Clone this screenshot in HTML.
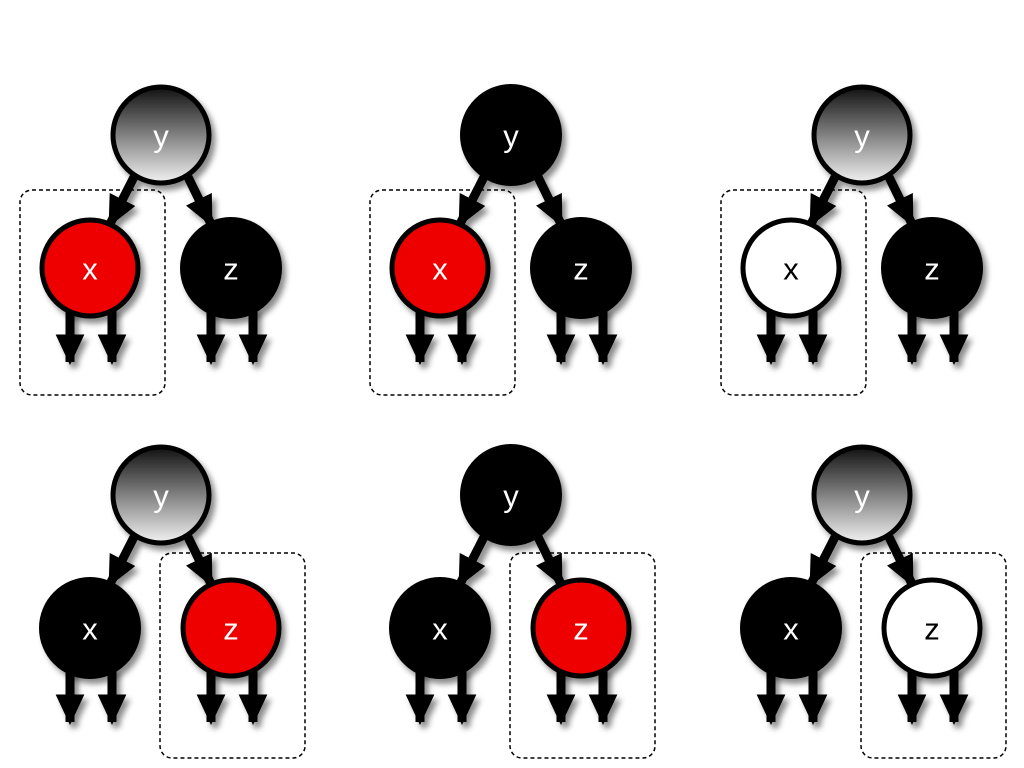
<!DOCTYPE html>
<html><head><meta charset="utf-8"><style>
html,body{margin:0;padding:0;background:#fff;width:1024px;height:768px;overflow:hidden}
svg{display:block}
text{font-family:"Liberation Sans",sans-serif;font-size:31px;fill:#fff;text-anchor:middle;dominant-baseline:central}
</style></head><body>
<svg id="diag" width="1024" height="768">
<defs>
<linearGradient id="grad" x1="0" y1="0" x2="0" y2="1">
<stop offset="0" stop-color="#111"/><stop offset="1" stop-color="#f2f2f2"/>
</linearGradient>
<filter id="sh" filterUnits="userSpaceOnUse" x="0" y="0" width="1024" height="768">
<feDropShadow dx="4" dy="5" stdDeviation="3" flood-color="#000" flood-opacity="0.45"/>
</filter>
<marker id="ah" viewBox="0 0 10 10" preserveAspectRatio="none" refX="9" refY="5" markerWidth="3.4" markerHeight="3.2" orient="auto" markerUnits="strokeWidth">
<path d="M0,0 L10,5 L0,10 Z" fill="#000"/>
</marker>
</defs>
</svg>
<script>
const colX=[0,350,701];
const rowY=[0,360];
const panels=[
 {c:0,r:0,y:'grad',x:'#e00',z:'#000',box:'left'},
 {c:1,r:0,y:'#000',x:'#e00',z:'#000',box:'left'},
 {c:2,r:0,y:'grad',x:'#fff',z:'#000',box:'left'},
 {c:0,r:1,y:'grad',x:'#000',z:'#e00',box:'right'},
 {c:1,r:1,y:'#000',x:'#000',z:'#e00',box:'right'},
 {c:2,r:1,y:'grad',x:'#000',z:'#fff',box:'right'}
];
const svg=document.getElementById('diag');
const NS='http://www.w3.org/2000/svg';
function mk(t,a){const e=document.createElementNS(NS,t);for(const k in a)e.setAttribute(k,a[k]);return e;}
function arrow(g,x1,y1,x2,y2){
 const l=mk('line',{x1:x1,y1:y1,x2:x2,y2:y2,stroke:'#000','stroke-width':9,'marker-end':'url(#ah)'});
 
 
 g.appendChild(l);
}
function node(g,cx,cy,fill,label){
 const ng=mk('g',{filter:'url(#sh)'});
 
 
 const f=fill==='grad'?'url(#grad)':fill;
 const bordered=(fill!=='#000');
 ng.appendChild(mk('circle',{cx:cx,cy:cy,r:bordered?48:51,fill:f,stroke:'#000','stroke-width':bordered?5:0}));
 const t=mk('text',{x:cx,y:cy+1});
 t.textContent=label;
 if(fill==='#fff'){t.style.fill='#000';}
 ng.appendChild(t);
 g.appendChild(ng);
}
panels.forEach((p,i)=>{
 const dx=colX[p.c],dy=rowY[p.r];
 const g=mk('g',{});
 
 
 svg.appendChild(g);
 const b=mk('rect',{x:p.box==='left'?20+dx:160+dx,y:p.box==='left'?190+dy:553,width:145,height:205,rx:12,fill:'none',stroke:'#000','stroke-width':1.5,'stroke-dasharray':'4,3'});
 
 
 g.appendChild(b);
 const ag=mk('g',{filter:'url(#sh)'});
 
 
 g.appendChild(ag);
 const yx=161+dx,yy=135+dy,xx=90+dx,zx=231+dx,cy=268+dy;
 arrow(ag,yx-27,yy+42,xx+20,cy-44);
 arrow(ag,yx+27,yy+42,zx-20,cy-44);
 [xx-20,xx+22,zx-20,zx+22].forEach(ax=>arrow(ag,ax,cy+40,ax,cy+94));
 node(g,yx,yy,p.y,'y');
 node(g,xx,cy,p.x,'x');
 node(g,zx,cy,p.z,'z');
});
</script>
</body></html>
